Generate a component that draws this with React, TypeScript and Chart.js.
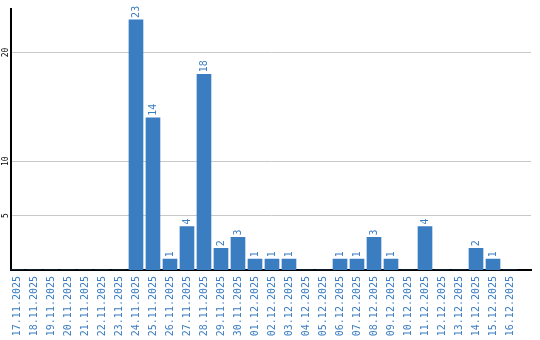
import React, { useEffect, useRef } from "react";
import { Chart, registerables } from "chart.js";

Chart.register(...registerables);

const categories = [
  "17.11.2025", "18.11.2025", "19.11.2025", "20.11.2025", "21.11.2025",
  "22.11.2025", "23.11.2025", "24.11.2025", "25.11.2025", "26.11.2025",
  "27.11.2025", "28.11.2025", "29.11.2025", "30.11.2025", "01.12.2025",
  "02.12.2025", "03.12.2025", "04.12.2025", "05.12.2025", "06.12.2025",
  "07.12.2025", "08.12.2025", "09.12.2025", "10.12.2025", "11.12.2025",
  "12.12.2025", "13.12.2025", "14.12.2025", "15.12.2025", "16.12.2025",
];

const counts = [
  0, 0, 0, 0, 0, 0, 0, 23, 14, 1,
  4, 18, 2, 3, 1, 1, 1, 0, 0, 1,
  1, 3, 1, 0, 4, 0, 0, 2, 1, 0,
];

const yTickValues = [5, 10, 20];

const BLUE = "#3a7dc1";
const MONO = "'DejaVu Sans Mono', monospace";

const valueLabels = {
  id: "valueLabels",
  afterDatasetsDraw(chart: any) {
    const ctx = chart.ctx;
    const meta = chart.getDatasetMeta(0);
    ctx.save();
    ctx.fillStyle = BLUE;
    ctx.font = `10px ${MONO}`;
    ctx.textAlign = "left";
    ctx.textBaseline = "middle";
    meta.data.forEach((el: any, i: number) => {
      const v = counts[i];
      if (!v) return;
      ctx.save();
      ctx.translate(el.x, el.y - 2);
      ctx.rotate(-Math.PI / 2);
      ctx.fillText(String(v), 0, 0);
      ctx.restore();
    });
    ctx.restore();
  },
};

export default function App() {
  const ref = useRef<HTMLCanvasElement | null>(null);

  useEffect(() => {
    document.body.style.margin = "0";
    if (!ref.current) return;
    const chart = new Chart(ref.current, {
      type: "bar",
      data: {
        datasets: [
          {
            data: counts.map((y, x) => ({ x, y })),
            backgroundColor: BLUE,
            borderWidth: 0,
            barThickness: 14,
          },
        ],
      },
      options: {
        animation: false,
        responsive: false,
        layout: { padding: { top: 9, right: 9, left: 0, bottom: 0 } },
        plugins: { legend: { display: false }, tooltip: { enabled: false } },
        scales: {
          x: {
            type: "linear",
            offset: false,
            min: -0.38,
            max: 30.235,
            grid: { display: false },
            border: { display: true, color: "#000", width: 2 },
            afterBuildTicks(scale: any) {
              scale.ticks = categories.map((_, i) => ({ value: i }));
            },
            afterFit(scale: any) {
              scale.height = 70;
            },
            ticks: {
              autoSkip: false,
              minRotation: 90,
              maxRotation: 90,
              padding: -2,
              color: BLUE,
              font: { family: MONO, size: 10 },
              callback: (v: any) => categories[v] ?? "",
            },
          },
          y: {
            min: 0,
            max: 24,
            grid: { color: "#c8c8c8", lineWidth: 1, drawTicks: false },
            border: { display: true, color: "#000", width: 2 },
            afterBuildTicks(scale: any) {
              scale.ticks = yTickValues.map((value) => ({ value }));
            },
            afterFit(scale: any) {
              scale.width = 10.5;
            },
            ticks: {
              minRotation: 90,
              maxRotation: 90,
              crossAlign: "center",
              padding: 0,
              color: "#000",
              font: { family: MONO, size: 8 },
            },
          },
        },
      },
      plugins: [valueLabels],
    } as any);
    return () => chart.destroy();
  }, []);

  return (
    <div style={{ position: "absolute", left: 0, top: 0, width: 540, height: 340 }}>
      <canvas ref={ref} width={540} height={340} />
    </div>
  );
}
